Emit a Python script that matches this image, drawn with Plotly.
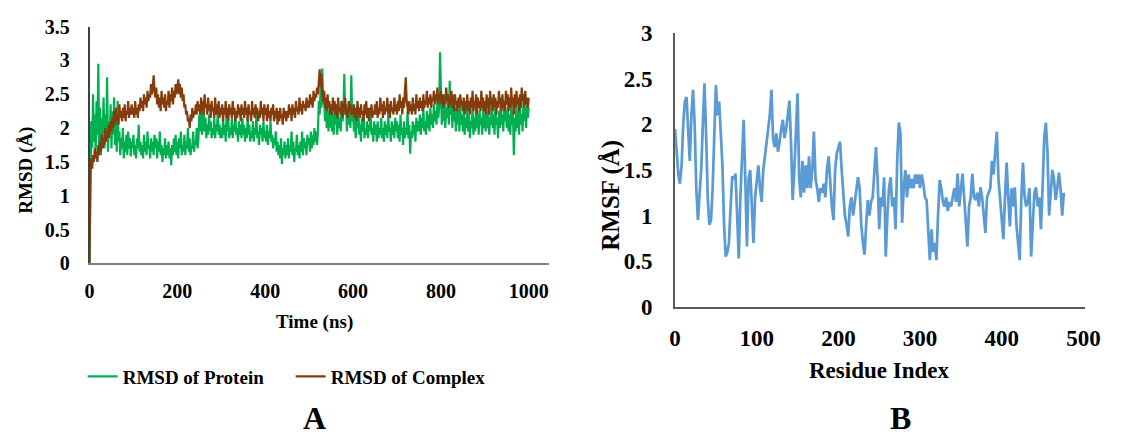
import plotly.graph_objects as go

# ---------------- Panel A: RMSD (sampled every 2 ns) ----------------
rmsd_protein = [
    0.0, 1.55, 2.1, 1.7, 2.5, 1.8, 2.2, 1.6, 2.4, 1.9, 2.95, 1.75, 2.3, 1.6, 2.15, 1.9, 2.45, 1.7, 2.2, 1.8, 2.75, 1.65, 2.1, 1.85, 2.35,
    1.7, 2.25, 1.9, 2.45, 1.75, 2.2, 1.65, 2.4, 1.8, 1.95, 1.6, 1.85, 1.7, 2.0, 1.55, 1.8, 1.65, 1.9, 1.6, 1.95, 1.7, 1.85, 1.58, 1.8, 1.7,
    1.9, 1.6, 1.75, 1.55, 1.85, 1.7, 2.05, 1.65, 1.8, 1.6, 1.75, 1.55, 1.9, 1.65, 1.8, 1.6, 1.95, 1.7, 1.75, 1.55, 1.85, 1.65, 1.8, 1.6, 1.9,
    1.7, 1.85, 1.55, 1.8, 1.65, 1.95, 1.6, 1.75, 1.5, 1.7, 1.6, 1.85, 1.55, 1.75, 1.6, 1.8, 1.55, 1.7, 1.45, 1.75, 1.6, 1.85, 1.65, 1.9, 1.6,
    1.8, 1.55, 1.85, 1.7, 1.95, 1.6, 1.75, 1.65, 1.9, 1.6, 1.8, 1.7, 2.0, 1.65, 1.85, 1.6, 1.75, 1.7, 1.95, 1.65, 1.8, 1.75, 2.0, 1.7, 1.85,
    2.2, 1.95, 2.25, 1.9, 2.1, 2.3, 1.95, 2.15, 1.85, 2.05, 1.9, 2.2, 1.95, 2.1, 1.85, 2.0, 1.9, 2.15, 1.85, 2.05, 1.95, 2.25, 1.9, 2.05, 1.85,
    2.0, 1.85, 2.15, 1.9, 2.05, 1.8, 2.2, 1.95, 2.1, 1.85, 2.0, 1.9, 2.15, 1.85, 2.05, 1.95, 2.2, 1.9, 2.0, 1.8, 2.1, 1.9, 2.05, 1.85, 2.15,
    1.9, 2.05, 1.8, 2.0, 1.85, 2.15, 1.9, 2.05, 1.8, 1.95, 1.85, 2.1, 1.8, 2.0, 1.9, 2.2, 1.85, 1.95, 1.75, 2.05, 1.9, 2.0, 1.8, 2.1, 1.85,
    1.95, 1.8, 2.05, 1.75, 1.95, 1.85, 2.1, 1.8, 1.9, 1.7, 1.85, 1.75, 1.95, 1.65, 1.8, 1.6, 1.75, 1.55, 1.85, 1.47, 1.7, 1.6, 1.8, 1.55, 1.75,
    1.6, 1.85, 1.55, 1.75, 1.65, 1.95, 1.6, 1.8, 1.5, 1.7, 1.65, 1.9, 1.6, 1.75, 1.55, 1.8, 1.65, 1.95, 1.6, 1.85, 1.7, 1.8, 1.6, 1.9, 1.75,
    1.85, 1.65, 1.95, 1.7, 1.9, 1.75, 2.0, 1.8, 1.95, 1.75, 1.95, 2.4, 2.2, 2.6, 2.3, 2.88, 2.35, 2.55, 2.1, 2.4, 2.0, 2.3, 1.95, 2.25, 2.0,
    2.3, 1.95, 2.2, 1.9, 2.35, 2.05, 2.2, 1.9, 2.25, 2.0, 2.15, 1.95, 2.4, 2.1, 2.25, 2.8, 2.2, 2.35, 1.95, 2.3, 2.05, 2.4, 2.0, 2.78, 2.1,
    2.25, 1.95, 2.15, 1.85, 2.1, 2.0, 2.3, 1.9, 2.05, 1.8, 2.15, 1.95, 2.2, 1.85, 2.0, 1.9, 2.1, 1.85, 2.05, 1.95, 2.2, 1.9, 2.0, 1.8, 2.1,
    1.9, 2.05, 1.8, 2.1, 1.85, 2.0, 1.9, 2.15, 1.85, 2.0, 1.8, 2.1, 1.9, 2.05, 1.85, 2.2, 1.95, 2.0, 1.8, 2.1, 1.9, 2.05, 1.85, 2.15, 1.95,
    2.1, 1.85, 2.05, 1.8, 2.2, 1.9, 2.0, 1.75, 2.1, 1.85, 2.0, 1.9, 2.25, 1.85, 2.05, 1.62, 1.95, 1.85, 2.1, 1.9, 2.05, 1.8, 2.15, 1.95, 2.1,
    1.95, 2.2, 1.9, 2.15, 2.0, 2.3, 1.95, 2.1, 1.9, 2.25, 2.0, 2.2, 1.95, 2.3, 2.05, 2.2, 2.0, 2.35, 2.1, 2.25, 2.05, 2.4, 2.15, 2.3, 3.12,
    2.3, 2.05, 2.4, 2.1, 2.5, 2.0, 2.3, 2.15, 2.45, 2.05, 2.7, 2.2, 2.35, 2.0, 2.5, 2.1, 2.3, 1.95, 2.4, 2.05, 2.25, 1.95, 2.35, 2.05, 2.2,
    1.95, 2.25, 1.9, 2.15, 2.0, 2.35, 1.95, 2.2, 1.85, 2.1, 2.0, 2.3, 1.9, 2.15, 1.95, 2.4, 2.0, 2.2, 1.9, 2.25, 2.05, 2.15, 1.9, 2.3, 2.0,
    2.2, 1.95, 2.35, 2.0, 2.25, 1.9, 2.15, 2.05, 2.45, 2.0, 2.2, 1.9, 2.3, 2.05, 2.15, 1.85, 2.25, 2.0, 2.4, 2.05, 2.2, 1.95, 2.35, 2.1, 2.25,
    2.0, 2.3, 1.95, 2.2, 1.9, 2.4, 2.05, 2.25, 1.6, 2.15, 1.95, 2.35, 2.0, 2.25, 1.9, 2.45, 2.05, 2.2, 1.95, 2.4, 2.1, 2.3, 2.0, 2.35, 2.15,
    2.3,
]

rmsd_complex = [
    0.0, 1.45, 1.55, 1.4, 1.6, 1.5, 1.7, 1.55, 1.65, 1.5, 1.75, 1.6, 1.8, 1.65, 1.9, 1.7, 1.85, 1.75, 2.0, 1.8, 1.95, 1.85, 2.05, 1.9, 2.1,
    1.95, 2.15, 2.0, 2.25, 2.05, 2.3, 2.1, 2.2, 2.05, 2.35, 2.15, 2.25, 2.1, 2.3, 2.15, 2.35, 2.1, 2.25, 2.2, 2.4, 2.15, 2.3, 2.2, 2.35, 2.2,
    2.3, 2.15, 2.4, 2.2, 2.3, 2.15, 2.35, 2.25, 2.45, 2.3, 2.4, 2.25, 2.5, 2.35, 2.45, 2.3, 2.55, 2.4, 2.5, 2.45, 2.65, 2.5, 2.6, 2.78, 2.55,
    2.45, 2.6, 2.35, 2.5, 2.3, 2.45, 2.25, 2.55, 2.35, 2.45, 2.3, 2.5, 2.25, 2.4, 2.35, 2.55, 2.3, 2.5, 2.4, 2.6, 2.35, 2.55, 2.45, 2.65, 2.5,
    2.6, 2.72, 2.5, 2.65, 2.45, 2.6, 2.4, 2.5, 2.3, 2.35, 2.2, 2.25, 2.1, 2.15, 2.0, 2.2, 2.1, 2.3, 2.15, 2.25, 2.2, 2.35, 2.2, 2.4, 2.25,
    2.35, 2.2, 2.45, 2.25, 2.4, 2.2, 2.5, 2.3, 2.35, 2.2, 2.45, 2.25, 2.35, 2.15, 2.4, 2.25, 2.3, 2.15, 2.45, 2.2, 2.35, 2.2, 2.4, 2.15, 2.3,
    2.2, 2.35, 2.1, 2.3, 2.2, 2.4, 2.15, 2.3, 2.1, 2.35, 2.2, 2.3, 2.15, 2.4, 2.2, 2.3, 2.1, 2.25, 2.15, 2.35, 2.2, 2.3, 2.1, 2.35, 2.2,
    2.3, 2.15, 2.4, 2.2, 2.3, 2.1, 2.35, 2.2, 2.25, 2.1, 2.4, 2.2, 2.3, 2.15, 2.35, 2.2, 2.3, 2.1, 2.25, 2.15, 2.4, 2.2, 2.3, 2.1, 2.35,
    2.2, 2.3, 2.1, 2.35, 2.15, 2.25, 2.1, 2.3, 2.2, 2.35, 2.1, 2.25, 2.15, 2.3, 2.05, 2.25, 2.1, 2.3, 2.15, 2.2, 2.05, 2.3, 2.15, 2.25, 2.1,
    2.25, 2.15, 2.35, 2.2, 2.3, 2.1, 2.35, 2.2, 2.3, 2.15, 2.4, 2.25, 2.3, 2.2, 2.45, 2.25, 2.35, 2.2, 2.4, 2.3, 2.35, 2.25, 2.45, 2.3, 2.4,
    2.3, 2.5, 2.35, 2.45, 2.3, 2.55, 2.4, 2.5, 2.45, 2.6, 2.5, 2.7, 2.87, 2.6, 2.8, 2.5, 2.4, 2.55, 2.3, 2.45, 2.25, 2.5, 2.3, 2.4, 2.2,
    2.35, 2.2, 2.45, 2.25, 2.4, 2.2, 2.35, 2.15, 2.45, 2.25, 2.3, 2.2, 2.4, 2.15, 2.35, 2.25, 2.45, 2.2, 2.3, 2.15, 2.4, 2.25, 2.35, 2.2, 2.3,
    2.2, 2.35, 2.15, 2.3, 2.1, 2.4, 2.2, 2.3, 2.15, 2.35, 2.2, 2.25, 2.1, 2.35, 2.2, 2.4, 2.15, 2.3, 2.1, 2.3, 2.2, 2.35, 2.15, 2.25, 2.2,
    2.35, 2.2, 2.4, 2.15, 2.3, 2.2, 2.45, 2.25, 2.35, 2.15, 2.4, 2.2, 2.3, 2.25, 2.45, 2.2, 2.35, 2.15, 2.4, 2.25, 2.3, 2.2, 2.45, 2.25, 2.35,
    2.2, 2.4, 2.25, 2.5, 2.3, 2.4, 2.2, 2.45, 2.3, 2.55, 2.75, 2.4, 2.3, 2.2, 2.4, 2.25, 2.35, 2.2, 2.45, 2.25, 2.35, 2.2, 2.5, 2.3, 2.4,
    2.25, 2.45, 2.3, 2.4, 2.25, 2.5, 2.3, 2.4, 2.35, 2.55, 2.3, 2.45, 2.35, 2.5, 2.3, 2.45, 2.4, 2.55, 2.35, 2.5, 2.4, 2.6, 2.35, 2.5, 2.4,
    2.55, 2.35, 2.5, 2.3, 2.45, 2.35, 2.6, 2.4, 2.5, 2.3, 2.45, 2.35, 2.55, 2.3, 2.45, 2.25, 2.5, 2.35, 2.4, 2.25, 2.45, 2.3, 2.5, 2.35, 2.4,
    2.25, 2.45, 2.2, 2.4, 2.3, 2.5, 2.25, 2.4, 2.2, 2.45, 2.3, 2.55, 2.25, 2.4, 2.3, 2.5, 2.2, 2.45, 2.3, 2.4, 2.25, 2.55, 2.3, 2.45, 2.25,
    2.4, 2.2, 2.5, 2.3, 2.45, 2.2, 2.55, 2.35, 2.4, 2.25, 2.5, 2.3, 2.45, 2.2, 2.4, 2.3, 2.55, 2.35, 2.45, 2.25, 2.5, 2.3, 2.4, 2.25, 2.55,
    2.35, 2.5, 2.25, 2.45, 2.3, 2.6, 2.35, 2.45, 2.2, 2.5, 2.3, 2.55, 2.35, 2.45, 2.25, 2.5, 2.3, 2.6, 2.4, 2.5, 2.3, 2.55, 2.35, 2.45, 2.3,
    2.45,
]
time_protein = list(range(0, 2 * len(rmsd_protein), 2))
time_complex = list(range(0, 2 * len(rmsd_complex), 2))

# ---------------- Panel B: RMSF (every 2nd residue) ----------------
rmsf = [
    1.95, 1.7, 1.45, 1.35, 1.55, 2.0, 2.25, 2.3, 1.9, 1.6,
    2.1, 2.38, 2.0, 1.3, 0.95, 1.2, 1.5, 2.0, 2.45, 1.9,
    1.2, 0.9, 0.95, 1.3, 1.9, 2.43, 2.1, 2.25, 1.9, 1.55,
    0.9, 0.55, 0.6, 0.7, 1.1, 1.43, 1.4, 1.46, 1.0, 0.53,
    1.2, 1.55, 2.05, 1.4, 0.66, 1.4, 1.5, 1.1, 0.7, 1.2,
    1.35, 1.55, 1.3, 1.15, 1.5, 1.65, 1.75, 1.9, 2.1, 2.38,
    1.85, 1.75, 1.9, 1.7, 1.8, 1.95, 2.05, 1.85, 1.95, 2.1,
    2.26, 1.8, 1.17, 1.5, 1.9, 2.34, 1.4, 1.2, 1.6, 1.25,
    1.55, 1.3, 1.65, 1.3, 1.5, 1.92, 1.4, 1.3, 1.15, 1.3,
    1.25, 1.35, 1.2, 1.5, 1.65, 1.3, 1.1, 0.95, 1.5, 1.68,
    1.75, 1.81, 1.5, 1.2, 1.0, 0.9, 0.77, 1.1, 1.2, 1.0,
    1.15, 1.25, 1.42, 1.3, 0.9, 0.7, 0.57, 0.9, 1.17, 1.0,
    1.15, 1.2, 1.5, 1.75, 1.4, 0.85, 1.2, 1.1, 1.42, 0.55,
    1.0, 1.3, 1.42, 1.1, 1.2, 0.85, 1.6, 2.02, 1.9, 0.92,
    1.3, 1.5, 1.2, 1.45, 1.3, 1.4, 1.3, 1.45, 1.35, 1.45,
    1.3, 1.45, 1.35, 1.2, 1.17, 0.8, 0.51, 0.85, 0.6, 0.7,
    0.51, 1.0, 1.39, 1.3, 1.15, 1.1, 1.2, 1.05, 1.15, 1.1,
    1.2, 1.3, 1.15, 1.46, 1.1, 1.3, 1.46, 1.2, 0.9, 0.66,
    1.1, 1.2, 1.46, 1.2, 1.17, 1.25, 1.1, 1.31, 1.2, 1.0,
    0.81, 1.2, 1.25, 1.3, 1.6, 1.45, 1.7, 1.92, 1.4, 1.17,
    1.0, 0.74, 1.2, 1.58, 1.2, 0.88, 1.3, 1.1, 1.31, 0.9,
    0.7, 0.51, 1.2, 1.58, 1.2, 1.1, 1.17, 1.3, 0.55, 1.0,
    1.25, 1.31, 1.1, 1.2, 0.85, 1.3, 1.85, 2.02, 1.7, 1.0,
    1.3, 1.5, 1.4, 1.17, 1.3, 1.47, 1.3, 1.0, 1.25,
]
residue = list(range(0, 2 * len(rmsf), 2))

left_yticks = [0, 0.5, 1, 1.5, 2, 2.5, 3, 3.5]
left_xticks = [0, 200, 400, 600, 800, 1000]
right_yticks = [0, 0.5, 1, 1.5, 2, 2.5, 3]
right_xticks = [0, 100, 200, 300, 400, 500]

W, H = 1146, 440
SERIF = "Liberation Serif"


def px_x(p):
    return p / W


def px_y(p):
    return 1 - p / H


fig = go.Figure()
fig.add_trace(go.Scatter(x=time_protein, y=rmsd_protein, mode="lines",
                         name="RMSD of Protein",
                         line=dict(color="#00B050", width=2.2),
                         xaxis="x", yaxis="y"))
fig.add_trace(go.Scatter(x=time_complex, y=rmsd_complex, mode="lines",
                         name="RMSD of Complex",
                         line=dict(color="#843C0C", width=2.2),
                         xaxis="x", yaxis="y"))
fig.add_trace(go.Scatter(x=residue, y=rmsf, mode="lines",
                         name="RMSF", showlegend=False,
                         line=dict(color="#5B9BD5", width=2.75),
                         xaxis="x2", yaxis="y2"))

tick_l = dict(family=SERIF, size=20, color="#000000", weight="bold")
tick_r = dict(family=SERIF, size=23, color="#000000", weight="bold")

fig.update_layout(
    width=W, height=H,
    margin=dict(l=0, r=0, t=0, b=0),
    paper_bgcolor="white", plot_bgcolor="white",
    showlegend=True,
    legend=dict(orientation="h", x=px_x(70), xanchor="left",
                y=px_y(378), yanchor="middle",
                font=dict(family=SERIF, size=19, color="#000000", weight="bold"),
                itemwidth=30, entrywidth=163, entrywidthmode="pixels",
                bgcolor="rgba(0,0,0,0)"),
    xaxis=dict(domain=[px_x(77), px_x(545)], range=[0, 1045],
               tickvals=left_xticks, showgrid=False, zeroline=False,
               showline=True, linecolor="#808080", linewidth=2,
               ticks="", tickfont=tick_l, ticklabelstandoff=9,
               anchor="y"),
    yaxis=dict(domain=[px_y(258), px_y(7)], range=[0, 3.5],
               tickvals=left_yticks, showgrid=False, zeroline=False,
               showline=True, linecolor="#404040", linewidth=1.5,
               ticks="", tickfont=tick_l, ticklabelstandoff=14,
               anchor="x"),
    xaxis2=dict(domain=[px_x(674), px_x(1092)], range=[0, 502],
                tickvals=right_xticks, showgrid=False, zeroline=False,
                showline=True, linecolor="#595959", linewidth=2,
                ticks="", tickfont=tick_r, ticklabelstandoff=10,
                anchor="y2"),
    yaxis2=dict(domain=[px_y(304), px_y(14)], range=[0, 3],
                tickvals=right_yticks, showgrid=False, zeroline=False,
                showline=True, linecolor="#595959", linewidth=2,
                ticks="", tickfont=tick_r, ticklabelstandoff=16,
                anchor="x2"),
)

ann_font = lambda s: dict(family=SERIF, size=s, color="#000000", weight="bold")
annotations = [
    dict(text="Time (ns)", x=px_x(306), y=px_y(320), font=ann_font(19),
         yanchor="middle"),
    dict(text="RMSD (Å)", x=px_x(12), y=px_y(159), font=ann_font(19),
         textangle=-90, yanchor="middle"),
    dict(text="Residue Index", x=px_x(882), y=px_y(372), font=ann_font(23),
         yanchor="middle"),
    dict(text="RMSF (Å)", x=px_x(609), y=px_y(186), font=ann_font(25),
         textangle=-90, yanchor="middle"),
    dict(text="A", x=px_x(306), y=-3 / H, font=ann_font(32), yanchor="bottom"),
    dict(text="B", x=px_x(904), y=-3 / H, font=ann_font(32), yanchor="bottom"),
]
for a in annotations:
    a.update(xref="paper", yref="paper", showarrow=False, xanchor="center")
fig.update_layout(annotations=annotations)

fig.write_html("out.html")
